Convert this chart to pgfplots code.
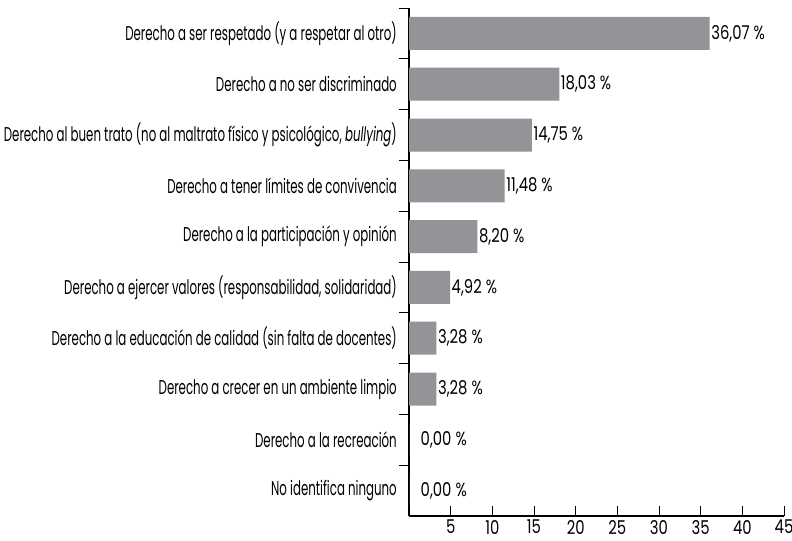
\documentclass[border=0pt]{standalone}
\usepackage{fontspec}
\setmainfont{Poppins}[FakeStretch=0.59]
\newfontfamily\numfamily{Poppins}[FakeStretch=0.78]
\usepackage{pgfplots}
\pgfplotsset{compat=1.18}
\usepackage{pgfplotstable}
\definecolor{bargray}{RGB}{147,148,152}
\newcommand{\myfont}{\fontsize{20bp}{24bp}\selectfont}
\newcommand{\numfont}{\numfamily\fontsize{19bp}{22bp}\selectfont}
\pgfplotstableread{
x y lab
36.07 0 36,07~\%
18.03 1 18,03~\%
14.75 2 14,75~\%
11.48 3 11,48~\%
8.20 4 8,20~\%
4.92 5 4,92~\%
3.28 6 3,28~\%
3.28 7 3,28~\%
0 8 \hspace{10bp}0,00~\%
0 9 \hspace{10bp}0,00~\%
}\datatab
\begin{document}
\myfont
\begin{tikzpicture}[font=\myfont]
\useasboundingbox (0,0) rectangle (792bp,541bp);
\begin{axis}[
  at={(409bp,25bp)}, anchor=south west,
  scale only axis, width=375bp, height=508bp,
  xmin=0, xmax=45, ymin=-0.5, ymax=9.5,
  y dir=reverse,
  axis lines*=left,
  axis line style={line width=1.2bp, black},
  every tick/.style={line width=1bp, black},
  tick align=inside,
  major tick length=10bp,
  xtick={5,10,15,20,25,30,35,40,45},
  xticklabel style={font=\numfont, inner sep=1bp, yshift=-3bp},
  ytick={-0.5,0.5,1.5,2.5,3.5,4.5,5.5,6.5,7.5,8.5},
  yticklabels={
    Derecho a ser respetado (y a respetar al otro),
    Derecho a no ser discriminado,
    {Derecho al buen trato (no al maltrato físico y psicológico, \textit{bullying})},
    Derecho a tener límites de convivencia,
    Derecho a la participación y opinión,
    {Derecho a ejercer valores (responsabilidad, solidaridad)},
    Derecho a la educación de calidad (sin falta de docentes),
    Derecho a crecer en un ambiente limpio,
    Derecho a la recreación,
    No identifica ninguno},
  yticklabel style={yshift=-25.4bp, font=\myfont, inner sep=0bp, xshift=-2bp},
  /pgf/number format/assume math mode=true,
  xbar, bar width=33bp, bar shift=0pt,
  nodes near coords,
  point meta=explicit symbolic,
  nodes near coords style={anchor=west, inner sep=1.5bp, black, font=\numfont},
  clip=false,
]
\addplot[fill=bargray, draw=none] table[x=x, y=y, meta=lab] {\datatab};
\end{axis}
\end{tikzpicture}
\end{document}
